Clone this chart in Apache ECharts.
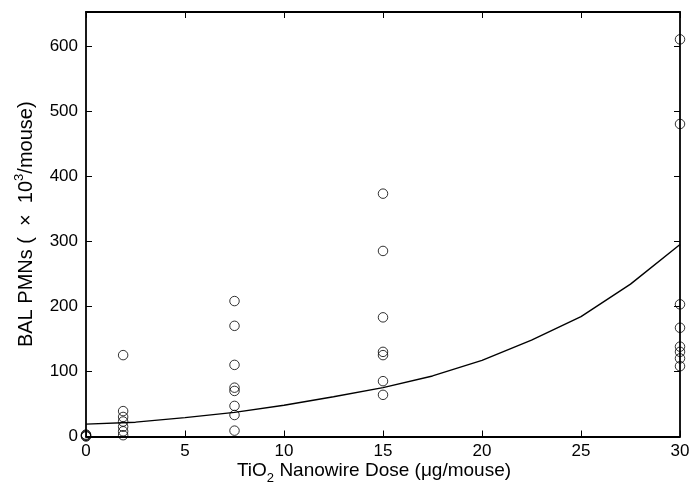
<!DOCTYPE html>
<html>
<head>
<meta charset="utf-8">
<script src="https://cdn.jsdelivr.net/npm/echarts@6/dist/echarts.min.js"></script>
<style>
html,body{margin:0;padding:0;background:#fff;}
#chart{width:693px;height:486px;}
</style>
</head>
<body>
<div id="chart"></div>
<script>
// Observed data (dose in ug/mouse, PMNs x10^3/mouse)
const dose0 = 0;
const pmn0 = [0, 1, 2, 3];
const dose1 = 1.875;
const pmn1 = [125, 39, 30, 23, 15, 8, 2];
const dose2 = 7.5;
const pmn2 = [208, 170, 110, 75, 70, 47, 33, 9];
const dose3 = 15;
const pmn3 = [373, 285, 183, 130, 125, 85, 64];
const dose4 = 30;
const pmn4 = [610, 480, 203, 167, 138, 130, 120, 108];

// Fitted curve readings
const fitX = [0, 2.5, 5, 7.5, 10, 12.5, 15, 17.5, 20, 22.5, 25, 27.5, 30];
const fitY = [19, 22, 29, 37, 48, 61, 75, 93, 117, 148, 184, 234, 295];

// Axis ticks
const xTicks = [0, 5, 10, 15, 20, 25, 30];
const yTicks = [0, 100, 200, 300, 400, 500, 600];

const groups = [[dose0, pmn0], [dose1, pmn1], [dose2, pmn2], [dose3, pmn3], [dose4, pmn4]];
const scatterData = [];
groups.forEach(([d, arr]) => arr.forEach(v => scatterData.push([d, v])));
const fitData = fitX.map((x, i) => [x, fitY[i]]);

const font = 'Liberation Sans, Arial, sans-serif';
function axisCommon() {
  return {
    min: 0,
    axisLine: {show: true, onZero: false, lineStyle: {color: '#000', width: 1.8}},
    axisTick: {show: true, inside: true, length: 6, lineStyle: {color: '#000', width: 1}},
    splitLine: {show: false}
  };
}

const chart = echarts.init(document.getElementById('chart'), null, {renderer: 'canvas'});
chart.setOption({
  animation: false,
  backgroundColor: '#fff',
  grid: {left: 86, right: 13, top: 12, bottom: 49.5, containLabel: false, outerBoundsMode: 'none'},
  xAxis: [
    Object.assign(axisCommon(), {
      type: 'value', position: 'bottom', max: xTicks[xTicks.length - 1], interval: 5,
      axisLabel: {color: '#000', fontSize: 17, fontFamily: font, margin: 6},
      name: '{a|TiO}{s|2}{a| Nanowire Dose (μg/mouse)}',
      nameLocation: 'middle', nameGap: 25, nameMoveOverlap: false,
      nameTextStyle: {
        color: '#000', fontFamily: font, fontSize: 19,
        padding: [0, 18, 0, 0],
        rich: {
          a: {fontSize: 19, fontFamily: font, color: '#000', verticalAlign: 'top'},
          s: {fontSize: 13, fontFamily: font, color: '#000', padding: [10, 0, 0, 0], verticalAlign: 'top'}
        }
      }
    }),
    Object.assign(axisCommon(), {
      type: 'value', position: 'top', max: xTicks[xTicks.length - 1], interval: 5,
      axisLabel: {show: false}
    })
  ],
  yAxis: [
    Object.assign(axisCommon(), {
      type: 'value', position: 'left', max: 652, interval: 100,
      axisLabel: {color: '#000', fontSize: 17, fontFamily: font, margin: 8, showMaxLabel: false},
      name: '{a|BAL PMNs (  ×  10}{p|3}{a|/mouse)}',
      nameLocation: 'middle', nameGap: 50, nameMoveOverlap: false,
      nameTextStyle: {
        color: '#000', fontFamily: font, fontSize: 20,
        rich: {
          a: {fontSize: 20, fontFamily: font, color: '#000', padding: [7, 0, 0, 0]},
          p: {fontSize: 13, fontFamily: font, color: '#000', padding: [0, 0, 7, 0]}
        }
      }
    }),
    Object.assign(axisCommon(), {
      type: 'value', position: 'right', max: 652, interval: 100,
      axisLabel: {show: false}
    })
  ],
  series: [
    {
      type: 'line', data: fitData, showSymbol: false, symbol: 'none',
      lineStyle: {color: '#000', width: 1.4}, clip: false, z: 3
    },
    {
      type: 'scatter', data: scatterData, symbol: 'circle', symbolSize: 9.5,
      itemStyle: {color: 'transparent', borderColor: '#000', borderWidth: 1},
      clip: false, z: 4
    }
  ]
});
</script>
</body>
</html>
